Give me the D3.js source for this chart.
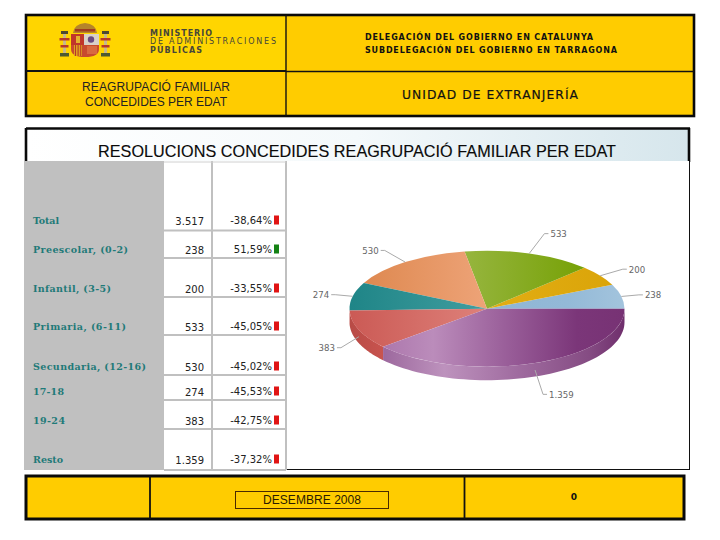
<!DOCTYPE html>
<html><head><meta charset="utf-8"><style>html,body{margin:0;background:#fff}svg{display:block}</style>
<script src="https://cdn.jsdelivr.net/npm/d3@7"></script></head><body><div id="c"></div>
<script>
const rowLabels=["Total","Preescolar, (0-2)","Infantil, (3-5)","Primaria, (6-11)","Secundaria, (12-16)","17-18","19-24","Resto"];
const rowValues=["3.517","238","200","533","530","274","383","1.359"];
const rowChanges=["-38,64%","51,59%","-33,55%","-45,05%","-45,02%","-45,53%","-42,75%","-37,32%"];
const rowChangeNums=[-38.64,51.59,-33.55,-45.05,-45.02,-45.53,-42.75,-37.32];
const sliceLabels=["238","200","533","530","274","383","1.359"];
const sliceValues=[238,200,533,530,274,383,1359];
const W=720,H=540;
const yellow="#ffcc00",ink="#111";
const svg=d3.select("#c").append("svg").attr("width",W).attr("height",H).attr("font-family","'Liberation Sans',Arial,sans-serif");
const defs=svg.append("defs");
function lin(id,x1,x2,stops){const g=defs.append("linearGradient").attr("id",id).attr("gradientUnits","userSpaceOnUse").attr("x1",x1).attr("x2",x2).attr("y1",0).attr("y2",0);
 stops.forEach(s=>g.append("stop").attr("offset",s[0]).attr("stop-color",s[1]));return `url(#${id})`;}
const rect=(x,y,w,h,f,extra={})=>{const r=svg.append("rect").attr("x",x).attr("y",y).attr("width",w).attr("height",h).attr("fill",f);for(const k in extra)r.attr(k,extra[k]);return r;};
const line=(x1,y1,x2,y2,c,w)=>svg.append("line").attr("x1",x1).attr("y1",y1).attr("x2",x2).attr("y2",y2).attr("stroke",c).attr("stroke-width",w);
const text=(s,x,y,o={})=>{const t=svg.append("text").attr("x",x).attr("y",y).text(s);for(const k in o)t.attr(k,o[k]);return t;};

// header
rect(26,15,668,101,yellow);
rect(26,15,260,56,"#ffd500");
rect(26,15,668,101,"none",{stroke:"#0a0a0a","stroke-width":2.6});
line(26,71,286,71,"#111",2);
line(286,71.5,694,71.5,"#111",1.4);
line(286,15,286,116,"#111",1.4);

// coat of arms
const arms=svg.append("g").attr("transform","translate(85,41)");
[-22,19].forEach(x=>{
 arms.append("rect").attr("x",x).attr("y",-9).attr("width",3).attr("height",22).attr("fill","#c9b98a");
 arms.append("rect").attr("x",x-2).attr("y",-10).attr("width",7).attr("height",3).attr("fill","#4f4a30");
 arms.append("rect").attr("x",x-3).attr("y",12).attr("width",9).attr("height",3.5).attr("fill","#4f5a30");
 arms.append("rect").attr("x",x-3.5).attr("y",-3).attr("width",10).attr("height",2.5).attr("fill","#b5392a");
 arms.append("rect").attr("x",x-2.5).attr("y",4).attr("width",8).attr("height",2.5).attr("fill","#b5392a");
});
arms.append("path").attr("d","M-14,-7H14V8Q14,16 0,16Q-14,16 -14,8Z").attr("fill","#c84a2f");
arms.append("rect").attr("x",-1).attr("y",-7).attr("width",15).attr("height",11).attr("fill","#d9d0c8");
arms.append("rect").attr("x",-14).attr("y",-7).attr("width",13).attr("height",11).attr("fill","#c0362a");
arms.append("rect").attr("x",-9).attr("y",-5).attr("width",4).attr("height",7).attr("fill","#e5b030");
arms.append("rect").attr("x",-11).attr("y",4).attr("width",8).attr("height",11).attr("fill","#e0a020");
d3.range(3).forEach(k=>arms.append("rect").attr("x",-10+k*2.6).attr("y",4).attr("width",1).attr("height",11).attr("fill","#b5392a"));
arms.append("circle").attr("cx",6).attr("cy",-1.5).attr("r",3.2).attr("fill","#6a4a80");
arms.append("rect").attr("x",2).attr("y",5).attr("width",10).attr("height",8).attr("fill","#d86a40");
arms.append("path").attr("d","M-12,-8Q-11,-17 0,-18Q11,-17 12,-8Z").attr("fill","#b5842a");
arms.append("rect").attr("x",-10).attr("y",-12).attr("width",20).attr("height",2.5).attr("fill","#a03a20");

const mini={fill:"#46463a","font-family":"'DejaVu Sans'","font-size":8,lengthAdjust:"spacing"};
text("MINISTERIO",150,35.5,{...mini,textLength:62,"font-weight":"bold"});
text("DE ADMINISTRACIONES",150,44,{...mini,textLength:126});
text("PÚBLICAS",150,52.5,{...mini,textLength:52,"font-weight":"bold"});

const dele={fill:ink,"font-family":"'DejaVu Sans'","font-size":8,"font-weight":"bold",lengthAdjust:"spacing"};
text("DELEGACIÓN DEL GOBIERNO EN CATALUNYA",365,39.5,{...dele,textLength:228});
text("SUBDELEGACIÓN DEL GOBIERNO EN TARRAGONA",365,53,{...dele,textLength:252});

text("REAGRUPACIÓ FAMILIAR",156,91,{"text-anchor":"middle","font-size":12,fill:"#222",textLength:148});
text("CONCEDIDES PER EDAT",156,106,{"text-anchor":"middle","font-size":12,fill:"#222",textLength:142});
text("UNIDAD DE EXTRANJERÍA",490,99,{"text-anchor":"middle","font-family":"'DejaVu Sans'","font-size":12.3,"font-weight":500,fill:"#111",textLength:176,stroke:"#111","stroke-width":.2});

// main panel
const band=lin("band",27,689,[[0,"#ffffff"],[.5,"#f4f9fb"],[1,"#d6e6ec"]]);
rect(27,129,661,33,band);
line(26,128.5,690,128.5,"#0a0a0a",2.6);
line(26,128,26,162,"#0a0a0a",2.6);
line(689,128,689,162,"#0a0a0a",2.6);
text("RESOLUCIONS CONCEDIDES REAGRUPACIÓ FAMILIAR PER EDAT",357,157,{"text-anchor":"middle","font-size":16.2,fill:"#0a0a0a",textLength:518,stroke:"#0a0a0a","stroke-width":.15});
rect(25,161,664,309,"#fff");
line(689.5,161,689.5,470,"#111",1);
line(286,469.5,690,469.5,"#111",1);
line(24.5,161,24.5,470,"#111",1);

// table
const rowEdges=[161,230.5,258,297,335,375,400,429,470];
const colX=[164,212,286];
rect(colX[0]-140,161,140,309,"#c0c0c0");
colX.slice(1).forEach(x=>line(x,161,x,470,"#c0c0c0",2));
line(colX[0],162,colX[2],162,"#d0d0d0",1);
rowEdges.slice(1).forEach(y=>line(colX[0],y,colX[2],y,"#c0c0c0",2));
const rowBase=[224,253,292,330,370,395,424,463];
const rows=d3.range(rowLabels.length);
svg.append("g").selectAll("text").data(rows).join("text").attr("x",33).attr("y",i=>rowBase[i]).text(i=>rowLabels[i])
 .attr("font-family","'DejaVu Serif'").attr("font-size",9.5).attr("font-weight","bold").attr("fill","#1f7a78")
 .attr("textLength",i=>[26,95,78,93,113,31,32,30][i]).attr("lengthAdjust","spacing");
svg.append("g").selectAll("text").data(rows).join("text").attr("x",204).attr("y",i=>rowBase[i]+0.5).attr("text-anchor","end").text(i=>rowValues[i])
 .attr("font-family","'DejaVu Sans'").attr("font-size",10).attr("fill","#222");
svg.append("g").selectAll("text").data(rows).join("text").attr("x",272).attr("y",i=>rowBase[i]).attr("text-anchor","end").text(i=>rowChanges[i])
 .attr("font-family","'DejaVu Sans'").attr("font-size",10).attr("fill","#222");
svg.append("g").selectAll("rect").data(rows).join("rect").attr("x",274).attr("y",i=>rowBase[i]-8.5).attr("width",5).attr("height",9)
 .attr("fill",i=>rowChangeNums[i]<0?"#e01414":"#148214");

// 3D pie
const cx=487,cy=308.7,rx=137.5,ry=58,depth=13.5;
const pie=d3.pie().sort(null).startAngle(Math.PI/2).endAngle(Math.PI/2-2*Math.PI);
const slices=pie(sliceValues);
const g=(id,a,b,stops)=>lin(id,a-cx,b-cx,stops);
const topFills=[
 g("s0",480,625,[[0,"#8fb5d4"],[.6,"#93b9d7"],[1,"#a3c4dd"]]),
 g("s1",490,620,[[0,"#e2ad14"],[1,"#daa408"]]),
 g("s2",465,585,[[0,"#96b53e"],[1,"#76a106"]]),
 g("s3",370,490,[[0,"#df8a52"],[1,"#eea479"]]),
 g("s4",350,480,[[0,"#1f8587"],[1,"#3f9c9e"]]),
 g("s5",350,480,[[0,"#cb5a55"],[1,"#dd7f78"]]),
 g("s6",385,625,[[0,"#ad78ad"],[.2,"#bb8cbb"],[.5,"#9a5f9a"],[.8,"#7b3679"],[1,"#773274"]])
];
const sideFills=[
 null,null,null,null,null,
 g("d5",350,385,[[0,"#b84b46"],[1,"#c9544f"]]),
 g("d6",384,625,[[0,"#9d699e"],[.25,"#bd92bd"],[.55,"#a06ca0"],[.85,"#854c83"],[1,"#6f2e6c"]])
];
const arc=d3.arc().innerRadius(0).outerRadius(rx);
const pieG=svg.append("g").attr("transform",`translate(${cx},${cy})`);
const pt=(a,r=1)=>[r*rx*Math.sin(a),-r*ry*Math.cos(a)];
slices.forEach((d,i)=>{
 if(!sideFills[i])return;
 const a0=Math.min(d.startAngle,d.endAngle),a1=Math.max(d.startAngle,d.endAngle);
 const angles=d3.range(0,61).map(k=>a0+(a1-a0)*k/60).filter(a=>Math.cos(a)<=1e-6);
 const area=d3.area().x(a=>pt(a)[0]).y0(a=>pt(a)[1]).y1(a=>pt(a)[1]+depth);
 pieG.append("path").attr("d",area(angles)).attr("fill",sideFills[i]);
});
pieG.append("g").attr("transform",`scale(1,${ry/rx})`).selectAll("path").data(slices).join("path")
 .attr("d",arc).attr("fill",(d,i)=>topFills[i]);
// leader lines and value labels
const reach=[1.13,1.2,1.36,1.25,1.13,1.14,1.3];
const lineGen=d3.line();
slices.forEach((d,i)=>{
 const a=(d.startAngle+d.endAngle)/2;
 const front=Math.cos(a)<-0.2;
 const off=front?7:0;
 const p0=pt(a),p1=pt(a,reach[i]);
 const start=[p0[0],p0[1]+off],elbow=[p1[0],p1[1]+off+(front?8:0)];
 if(i===6){elbow[0]=p0[0]+8;}
 const dir=Math.sin(a)>=0?1:-1;
 const end=[elbow[0]+dir*4,elbow[1]];
 pieG.append("path").attr("d",lineGen([start,elbow,end])).attr("fill","none").attr("stroke","#aaa").attr("stroke-width",1);
 pieG.append("text").attr("x",end[0]+dir*2).attr("y",end[1]+3.5).attr("text-anchor",dir>0?"start":"end")
  .attr("font-family","'DejaVu Sans'").attr("font-size",8.6).attr("fill","#666").text(sliceLabels[i]);
});

// footer
rect(26,476,658,43,yellow);
rect(26,476,658,43,"none",{stroke:"#0a0a0a","stroke-width":3});
line(150,476,150,519,"#111",1.8);
line(464.5,476,464.5,519,"#111",1.8);
rect(235.5,491.5,153,17,"none",{stroke:"#4a2a00","stroke-width":1});
text("DESEMBRE 2008",312,504,{"text-anchor":"middle","font-size":12,fill:"#2a1a00",textLength:98});
text("0",574,500,{"text-anchor":"middle","font-family":"'DejaVu Sans'","font-size":9,"font-weight":"bold",fill:"#111"});
</script></body></html>
